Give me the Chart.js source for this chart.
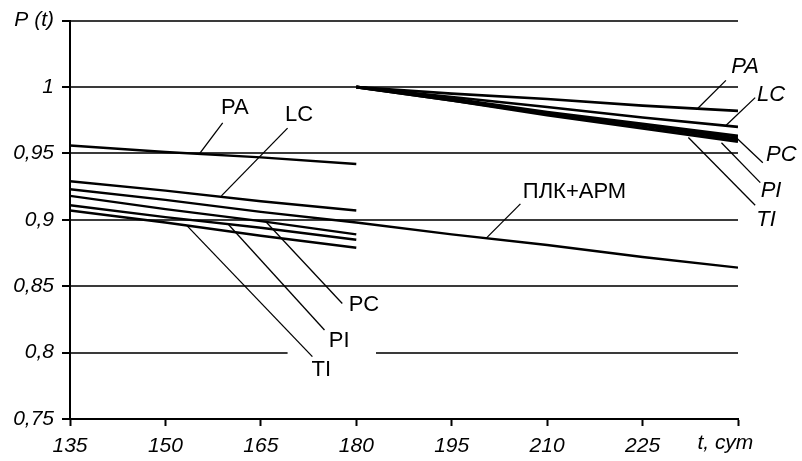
<!DOCTYPE html>
<html>
<head>
<meta charset="utf-8">
<script src="https://cdn.jsdelivr.net/npm/chart.js@4"></script>
<style>
  body { margin: 0; background: #fff; }
  canvas { display: block; }
</style>
</head>
<body>
<canvas id="chartP" width="802" height="461"></canvas>
<script>
// time points, days
const tLeft = [135, 150, 165, 180];
const tRight = [180, 195, 210, 225, 240];
const tAll = [135, 150, 165, 180, 195, 210, 225, 240];

// P(t) before 180 days
const paLeft = [0.956, 0.951, 0.947, 0.942];
const lcLeft = [0.929, 0.922, 0.914, 0.907];
const pcLeft = [0.918, 0.908, 0.899, 0.889];
const piLeft = [0.911, 0.902, 0.894, 0.885];
const tiLeft = [0.907, 0.898, 0.888, 0.879];

// P(t) after 180 days
const paRight = [1, 0.995, 0.991, 0.986, 0.982];
const lcRight = [1, 0.9925, 0.985, 0.977, 0.970];
const pcRight = [1, 0.991, 0.981, 0.972, 0.963];
const piRight = [1, 0.990, 0.980, 0.971, 0.961];
const tiRight = [1, 0.990, 0.979, 0.969, 0.959];

// ПЛК+АРМ over the whole range
const plkArm = [0.923, 0.915, 0.906, 0.898, 0.889, 0.881, 0.872, 0.864];

// curve labels: text, t, P, italic
const labelText = ['PA', 'LC', 'ПЛК+АРМ', 'PC', 'PI', 'TI', 'PA', 'LC', 'PC', 'PI', 'TI'];
const labelT = [160.9, 171.0, 214.3, 181.2, 177.3, 174.5, 241.1, 245.2, 246.8, 245.2, 244.4];
const labelP = [0.984, 0.979, 0.921, 0.836, 0.809, 0.787, 1.015, 0.994, 0.949, 0.922, 0.900];
const labelItalic = [false, false, false, false, false, false, true, true, true, true, true];

// axis titles
const xTitle = 't, сут';
const xTitleT = 238;

// leader lines: [t1, P1, t2, P2]
const leaders = [
  [159.0, 0.973, 155.4, 0.950],
  [169.2, 0.969, 158.8, 0.918],
  [205.8, 0.912, 200.4, 0.886],
  [177.8, 0.837, 165.9, 0.898],
  [175.0, 0.817, 159.8, 0.897],
  [173.1, 0.797, 153.3, 0.896],
  [238.1, 1.005, 233.7, 0.984],
  [242.7, 0.992, 238.1, 0.971],
  [243.9, 0.943, 239.7, 0.962],
  [243.5, 0.928, 237.4, 0.958],
  [242.7, 0.911, 232.2, 0.962]
];

// white gap in the 0,8 grid line behind the labels
const gridGap = [169.2, 183.1, 0.8];

const pts = (ts, vs) => ts.map((t, i) => ({x: t, y: vs[i]}));
const curve = (label, ts, vs, w) => ({
  label: label,
  data: pts(ts, vs),
  borderColor: '#000',
  borderWidth: w,
  pointRadius: 0,
  fill: false,
  tension: 0
});

const datasets = [
  curve('PA', tLeft, paLeft, 2.4),
  curve('LC', tLeft, lcLeft, 2.4),
  curve('PC', tLeft, pcLeft, 2.4),
  curve('PI', tLeft, piLeft, 2.4),
  curve('TI', tLeft, tiLeft, 2.4),
  curve('ПЛК+АРМ', tAll, plkArm, 2.4),
  curve('PA', tRight, paRight, 2.6),
  curve('LC', tRight, lcRight, 2.6),
  curve('PC', tRight, pcRight, 3.2),
  curve('PI', tRight, piRight, 3.2),
  curve('TI', tRight, tiRight, 3.2)
];
leaders.forEach(l => {
  datasets.push({
    label: '',
    data: [{x: l[0], y: l[1]}, {x: l[2], y: l[3]}],
    borderColor: '#000',
    borderWidth: 1.3,
    pointRadius: 0,
    clip: false
  });
});

const gapPlugin = {
  id: 'gap',
  beforeDatasetsDraw(chart) {
    const {ctx, scales} = chart;
    const x1 = scales.x.getPixelForValue(gridGap[0]);
    const x2 = scales.x.getPixelForValue(gridGap[1]);
    const y = scales.y.getPixelForValue(gridGap[2]);
    ctx.save();
    ctx.fillStyle = '#fff';
    ctx.fillRect(x1, y - 3, x2 - x1, 6);
    ctx.restore();
  }
};

const labelPlugin = {
  id: 'curveLabels',
  afterDatasetsDraw(chart) {
    const {ctx, scales} = chart;
    ctx.save();
    ctx.fillStyle = '#000';
    ctx.textAlign = 'center';
    ctx.textBaseline = 'middle';
    labelText.forEach((txt, i) => {
      ctx.font = (labelItalic[i] ? 'italic ' : '') + '22px "Liberation Sans", Arial, sans-serif';
      ctx.fillText(txt, scales.x.getPixelForValue(labelT[i]), scales.y.getPixelForValue(labelP[i]));
    });
    // x axis title sits in place of the last tick label
    ctx.font = 'italic 21px "Liberation Sans", Arial, sans-serif';
    ctx.textBaseline = 'top';
    ctx.fillText(xTitle, scales.x.getPixelForValue(xTitleT), scales.x.top + 14);
    ctx.restore();
  }
};

const tickFont = {family: '"Liberation Sans", Arial, sans-serif', size: 21, style: 'italic'};

const ctxP = document.getElementById('chartP').getContext('2d');
const chartP = new Chart(ctxP, {
  type: 'line',
  data: { datasets: datasets },
  options: {
    responsive: false,
    animation: false,
    layout: { padding: { left: 0, top: 20, right: 64, bottom: 0 } },
    plugins: {
      legend: { display: false },
      tooltip: { enabled: false }
    },
    scales: {
      x: {
        type: 'linear',
        min: 135,
        max: 240,
        afterFit(scale) { scale.height = 42; },
        border: { color: '#000', width: 2 },
        grid: { drawOnChartArea: false, drawTicks: true, tickLength: 7, tickColor: '#000', tickWidth: 2 },
        ticks: {
          stepSize: 15,
          color: '#000',
          font: tickFont,
          padding: 8,
          maxRotation: 0,
          callback: v => v === 240 ? '' : String(v)
        }
      },
      y: {
        min: 0.75,
        max: 1.05,
        afterFit(scale) { scale.width = 70; },
        border: { color: '#000', width: 2 },
        grid: { color: '#3a3a3a', lineWidth: 2, tickLength: 8, tickColor: '#000', tickWidth: 2 },
        ticks: {
          stepSize: 0.05,
          color: '#000',
          font: tickFont,
          padding: 8,
          callback: v => {
            const r = Math.round(v * 100) / 100;
            if (r === 1.05) return 'P (t)';
            return String(r).replace('.', ',');
          }
        }
      }
    }
  },
  plugins: [gapPlugin, labelPlugin]
});
</script>
</body>
</html>
